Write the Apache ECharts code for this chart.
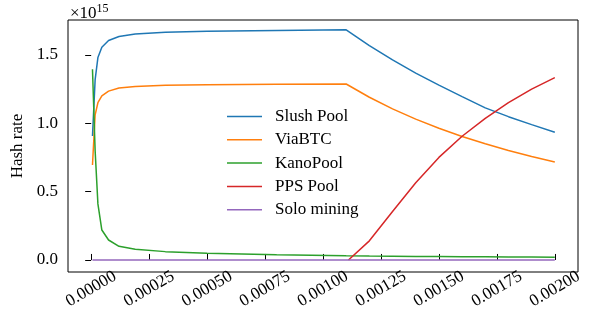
<!DOCTYPE html>
<html>
<head>
<meta charset="utf-8">
<script src="https://cdn.jsdelivr.net/npm/echarts@6/dist/echarts.min.js"></script>
<style>
  html, body { margin: 0; padding: 0; background: #fff; }
  #chart { width: 591px; height: 317px; }
</style>
</head>
<body>
<div id="chart"></div>
<script>
// time axis (shared by the three big pools) and values in units of 1e15
const xMain = [0.0000056, 0.000017, 0.000029, 0.000046, 0.000075, 0.00012, 0.00019, 0.00032, 0.0005, 0.0008,
  0.0011, 0.0012, 0.0013, 0.0014, 0.0015, 0.0016, 0.0017, 0.0018, 0.0019, 0.002];
const slushPool = [0.907, 1.317, 1.48, 1.556, 1.605, 1.634, 1.653, 1.665, 1.673, 1.679,
  1.683, 1.568, 1.463, 1.367, 1.279, 1.195, 1.112, 1.048, 0.99, 0.934];
const viaBTC = [0.695, 1.061, 1.15, 1.2, 1.235, 1.257, 1.268, 1.277, 1.281, 1.285,
  1.287, 1.19, 1.105, 1.03, 0.963, 0.903, 0.85, 0.8, 0.756, 0.716];
const kanoPool = [1.395, 0.8, 0.41, 0.219, 0.146, 0.1, 0.078, 0.061, 0.049, 0.038,
  0.031, 0.029, 0.028, 0.026, 0.025, 0.024, 0.023, 0.022, 0.021, 0.02];
const xPPS = [0.00111, 0.0012, 0.0013, 0.0014, 0.0015, 0.0016, 0.0017, 0.0018, 0.0019, 0.002];
const ppsPool = [0, 0.14, 0.355, 0.565, 0.75, 0.905, 1.035, 1.15, 1.25, 1.334];
const xSolo = [0.0000056, 0.002];
const soloMining = [0, 0];

const xTicks = [0, 0.00025, 0.0005, 0.00075, 0.001, 0.00125, 0.0015, 0.00175, 0.002];
const yTicks = [0, 0.5, 1.0, 1.5];

const names = ['Slush Pool', 'ViaBTC', 'KanoPool', 'PPS Pool', 'Solo mining'];
const colors = ['#1f77b4', '#ff7f0e', '#2ca02c', '#d62728', '#9467bd'];

function pairs(xs, ys) {
  return xs.map((x, i) => [x, ys[i]]);
}

const seriesData = [
  pairs(xMain, slushPool),
  pairs(xMain, viaBTC),
  pairs(xMain, kanoPool),
  pairs(xPPS, ppsPool),
  pairs(xSolo, soloMining)
];

const font = 'Liberation Serif';
const chart = echarts.init(document.getElementById('chart'));
chart.setOption({
  animation: false,
  backgroundColor: '#fff',
  title: {
    text: '{a|×10}{b|15}',
    left: 65,
    top: -2,
    textStyle: {
      fontWeight: 'normal',
      rich: {
        a: { fontFamily: font, fontSize: 17, fontWeight: 'normal', color: '#000' },
        b: { fontFamily: font, fontSize: 12, fontWeight: 'normal', color: '#000', verticalAlign: 'top', padding: [0, 0, 9, 0] }
      }
    }
  },
  grid: {
    left: 68, right: 13, top: 20, bottom: 45,
    show: true, borderColor: '#000', borderWidth: 1
  },
  legend: {
    data: names,
    orient: 'vertical',
    left: 222,
    top: 103,
    icon: 'rect',
    itemWidth: 35,
    itemHeight: 1.5,
    itemGap: 6.3,
    textStyle: { fontFamily: font, fontSize: 17, lineHeight: 17, color: '#000', padding: [0, 0, 0, 8] }
  },
  xAxis: {
    type: 'value',
    min: -0.0001,
    max: 0.0021,
    axisLine: { show: false },
    axisTick: { show: true, inside: true, length: 6, customValues: xTicks, lineStyle: { color: '#000' } },
    axisLabel: {
      customValues: xTicks,
      rotate: 30,
      align: 'center',
      verticalAlign: 'middle',
      margin: 17,
      fontFamily: font,
      fontSize: 17,
      color: '#000',
      formatter: v => v.toFixed(5)
    },
    splitLine: { show: false }
  },
  yAxis: {
    type: 'value',
    min: -0.088,
    max: 1.755,
    name: 'Hash rate',
    nameLocation: 'middle',
    nameGap: 37,
    nameTextStyle: { fontFamily: font, fontSize: 17, color: '#000' },
    axisLine: { show: false },
    axisTick: { show: true, length: 6, customValues: yTicks, lineStyle: { color: '#000' } },
    axisLabel: {
      customValues: yTicks,
      margin: 10,
      fontFamily: font,
      fontSize: 17,
      color: '#000',
      formatter: v => v.toFixed(1)
    },
    splitLine: { show: false }
  },
  series: names.map((name, i) => ({
    name: name,
    type: 'line',
    data: seriesData[i],
    symbol: 'none',
    color: colors[i],
    lineStyle: { width: 1.5, color: colors[i] },
    z: 2
  }))
});
</script>
</body>
</html>
